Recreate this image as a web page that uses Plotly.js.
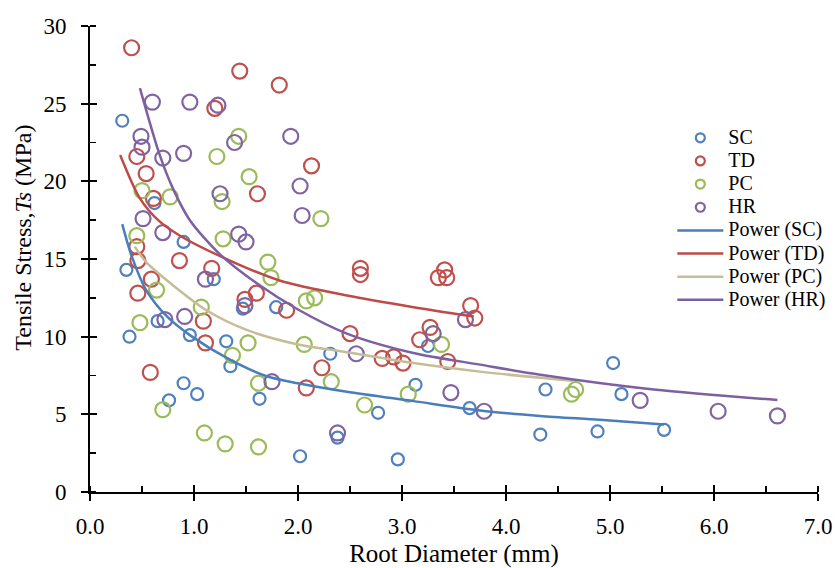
<!DOCTYPE html>
<html><head><meta charset="utf-8">
<script src="https://cdn.plot.ly/plotly-3.0.1.min.js"></script>
<style>html,body{margin:0;padding:0;background:#fff}#chart{width:835px;height:568px}</style>
</head><body><div id="chart"></div>
<script>
// ---- data ----
const scX = [0.31,0.35,0.38,0.62,0.65,0.76,0.90,0.90,0.96,1.03,1.19,1.31,1.35,1.47,1.63,1.79,2.02,2.31,2.38,2.77,2.96,3.13,3.25,3.65,4.33,4.38,4.88,5.03,5.11,5.52];
const scY = [23.9,14.3,10.0,18.6,11.0,5.9,16.1,7.0,10.1,6.3,13.7,9.7,8.1,11.8,6.0,11.9,2.3,8.9,3.5,5.1,2.1,6.9,9.4,5.4,3.7,6.6,3.9,8.3,6.3,4.0];

const tdX = [0.40,0.45,0.54,0.61,0.45,0.46,0.59,0.46,0.58,0.86,1.09,1.11,1.17,1.20,1.44,1.49,1.60,1.61,1.82,1.89,2.08,2.13,2.23,2.50,2.60,2.60,2.81,2.92,3.01,3.17,3.27,3.35,3.41,3.43,3.44,3.66,3.70];
const tdY = [28.6,21.6,20.5,18.9,15.8,14.9,13.7,12.8,7.7,14.9,11.0,9.6,14.4,24.7,27.1,12.4,12.8,19.2,26.2,11.7,6.7,21.0,8.0,10.2,14.4,14.0,8.6,8.7,8.3,9.8,10.6,13.8,14.3,13.8,8.4,12.0,11.2];

const pcX = [0.45,0.48,0.50,0.64,0.70,0.77,1.07,1.10,1.22,1.27,1.28,1.30,1.37,1.43,1.52,1.53,1.62,1.62,1.71,1.74,2.06,2.08,2.16,2.22,2.32,2.64,3.06,3.38,4.63,4.67];
const pcY = [16.5,10.9,19.4,13.0,5.3,19.0,11.9,3.8,21.6,18.7,16.3,3.1,8.8,22.9,9.6,20.3,7.0,2.9,14.8,13.8,9.5,12.3,12.5,17.6,7.1,5.6,6.3,9.5,6.3,6.6];

const hrX = [0.49,0.50,0.51,0.60,0.70,0.70,0.72,0.90,0.91,0.96,1.11,1.23,1.25,1.39,1.43,1.49,1.50,1.75,1.93,2.02,2.04,2.38,2.56,3.30,3.47,3.61,3.79,5.29,6.04,6.61];
const hrY = [22.9,22.2,17.6,25.1,21.5,16.7,11.1,21.8,11.3,25.1,13.7,24.9,19.2,22.5,16.6,12.0,16.1,7.1,22.9,19.7,17.8,3.8,8.9,10.2,6.4,11.1,5.2,5.9,5.2,4.9];

// power trend lines
const scTrendX = [0.31,0.40,0.54,0.74,0.96,1.35,1.70,2.00,2.47,3.11,3.75,4.33,4.90,5.52];
const scTrendY = [17.25,15.2,13.0,11.3,10.1,8.5,7.45,7.0,6.45,5.85,5.25,4.9,4.65,4.35];
const tdTrendX = [0.29,0.48,0.655,0.865,1.345,1.83,2.47,3.11,3.69];
const tdTrendY = [21.7,18.9,17.5,16.5,14.9,13.6,12.65,11.9,11.3];
const pcTrendX = [0.43,0.54,0.80,1.12,1.50,2.00,2.47,3.11,3.75,4.33,4.66];
const pcTrendY = [15.8,14.8,13.3,11.7,10.45,9.5,9.0,8.3,7.75,7.35,7.15];
const hrTrendX = [0.48,0.67,0.80,0.96,1.25,1.60,2.00,2.47,3.11,3.75,4.33,5.42,6.61];
const hrTrendY = [26.0,21.7,19.5,17.5,15.3,13.45,11.75,10.2,8.95,8.2,7.55,6.6,5.92];

const seriesNames = ['SC','TD','PC','HR'];
const trendNames = ['Power (SC)','Power (TD)','Power (PC)','Power (HR)'];
const xTicks = [0,1,2,3,4,5,6,7];
const yTicks = [0,5,10,15,20,25,30];

// ---- style ----
const colors = ['#4f81bd','#c0504d','#9bbb59','#8064a2'];
const trendColors = ['#4a7ebb','#be4b48','#c4bd97','#7d60a0'];
const sizes = [12,15,15,15];
const FONT = 'Liberation Serif, Times New Roman, serif';
const lg = s => '<span style="font-size:20px">' + s + '</span>';

const ptsX = [scX, tdX, pcX, hrX], ptsY = [scY, tdY, pcY, hrY];
const trX = [scTrendX, tdTrendX, pcTrendX, hrTrendX], trY = [scTrendY, tdTrendY, pcTrendY, hrTrendY];

const traces = [];
// legend entries for the marker series
seriesNames.forEach((n, i) => traces.push({
  type:'scatter', mode:'markers', x:[null], y:[null], xaxis:'x2', yaxis:'y2',
  name: lg(n), hoverinfo:'skip',
  marker:{symbol:'circle-open', size:9, color:colors[i], line:{width:2.2}}
}));
// data
seriesNames.forEach((n, i) => traces.push({
  type:'scatter', mode:'markers', x:ptsX[i], y:ptsY[i], name:n, showlegend:false,
  marker:{symbol:'circle-open', size:sizes[i], color:colors[i], line:{width:2.2}}
}));
// trend lines
trendNames.forEach((n, i) => traces.push({
  type:'scatter', mode:'lines', x:trX[i], y:trY[i], name:lg(n),
  line:{color:trendColors[i], width:2.5, shape:'spline', smoothing:0.8}
}));

const tickFont = {family:FONT, size:23, color:'#000'};
const layout = {
  width:835, height:568,
  margin:{l:90.3, r:17.3, t:25.7, b:75.7, pad:0, autoexpand:false},
  paper_bgcolor:'#fff', plot_bgcolor:'#fff',
  showlegend:true,
  legend:{x:0.7999, xanchor:'left', y:0.7957, yanchor:'top', font:{family:FONT, size:15.5, color:'#000'},
          bgcolor:'rgba(0,0,0,0)', itemwidth:46, traceorder:'normal', tracegroupgap:0},
  xaxis:{range:[0,7], tickvals:xTicks, tickformat:'.1f', showline:true, linecolor:'#000', linewidth:2,
         ticks:'outside', ticklen:7, tickwidth:2, tickcolor:'#000', automargin:false,
         minor:{dtick:0.5, tick0:0, ticks:'inside', ticklen:6, tickwidth:1.5, tickcolor:'#000'},
         showgrid:false, zeroline:false, tickfont:tickFont, ticklabelstandoff:5,
         title:{text:'Root Diameter (mm)', font:{family:FONT, size:25, color:'#000'}, standoff:9}},
  yaxis:{range:[0,30], tickvals:yTicks, showline:true, linecolor:'#000', linewidth:2,
         ticks:'outside', ticklen:7, tickwidth:2, tickcolor:'#000', automargin:false,
         minor:{dtick:2.5, tick0:0, ticks:'inside', ticklen:6, tickwidth:1.5, tickcolor:'#000'},
         showgrid:false, zeroline:false, tickfont:tickFont, ticklabelstandoff:10},
  xaxis2:{overlaying:'x', anchor:'y2', range:[0,7], tickvals:xTicks, ticks:'inside', ticklen:7, tickwidth:2,
          tickcolor:'#000', showticklabels:false, showline:false, showgrid:false, zeroline:false},
  yaxis2:{overlaying:'y', anchor:'x2', range:[0,30], tickvals:yTicks, ticks:'inside', ticklen:7, tickwidth:2,
          tickcolor:'#000', showticklabels:false, showline:false, showgrid:false, zeroline:false},
  annotations:[{text:'Tensile Stress,<i>Ts</i> (MPa)', textangle:-90, xref:'paper', yref:'paper',
                x:-0.0925, y:0.545, xanchor:'center', yanchor:'middle', showarrow:false,
                font:{family:FONT, size:24, color:'#000'}}]
};
Plotly.newPlot('chart', traces, layout, {displayModeBar:false, staticPlot:true});
</script></body></html>
